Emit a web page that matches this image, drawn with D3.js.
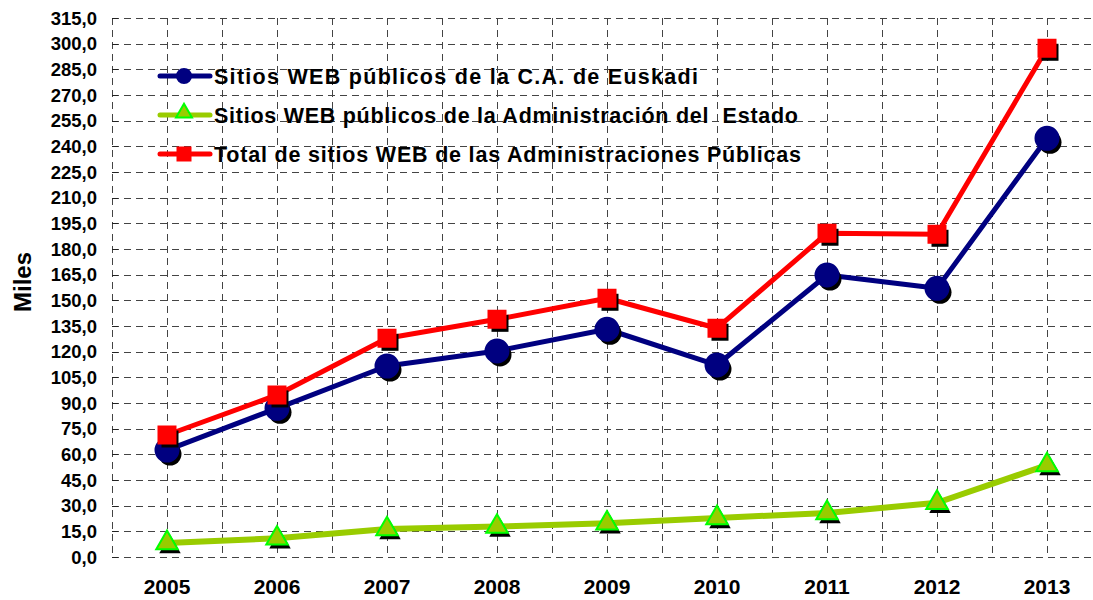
<!DOCTYPE html>
<html>
<head>
<meta charset="utf-8">
<script src="https://cdn.jsdelivr.net/npm/d3@7"></script>
<style>
  body { margin: 0; background: #fff; }
  text { font-family: "Liberation Sans", Arial, sans-serif; font-weight: 700; fill: #000; }
</style>
</head>
<body>
<svg id="chart" width="1093" height="600"></svg>
<script>
// data (thousands)
const years = ["2005", "2006", "2007", "2008", "2009", "2010", "2011", "2012", "2013"];
const euskadi = [62.5, 86.9, 111.6, 120.4, 133.1, 112.2, 164.8, 157.0, 244.7];
const estado = [8.2, 10.9, 16.3, 17.8, 19.7, 22.8, 25.7, 31.7, 53.7];
const total = [71.3, 94.7, 127.8, 138.9, 151.2, 133.7, 189.2, 188.6, 297.3];
const yTicks = d3.range(0, 316, 15);
const legendLabels = [
  "Sitios WEB públicos de la C.A. de Euskadi",
  "Sitios WEB públicos de la Administración del\u00a0 Estado",
  "Total de sitios WEB de las Administraciones Públicas"
];

let svg = d3.select("#chart");

let x = d3.scaleBand().domain(years).range([112, 1102]);
let y = d3.scaleLinear().domain([0, 315]).range([557, 18]);
let cx = d => x(d) + x.bandwidth() / 2;

// grid
let grid = svg.append("g")
  .attr("stroke", "#444")
  .attr("stroke-width", 1)
  .attr("stroke-dasharray", "7,5");

grid.selectAll(".h")
  .data(yTicks)
  .enter()
  .append("line")
  .attr("x1", 112).attr("x2", 1102)
  .attr("y1", d => Math.round(y(d)) + 0.5)
  .attr("y2", d => Math.round(y(d)) + 0.5);

// vertical lines at category boundaries and centers
let vx = [];
years.forEach(d => { vx.push(x(d)); vx.push(cx(d)); });
grid.selectAll(".v")
  .data(vx)
  .enter()
  .append("line")
  .attr("x1", d => Math.round(d) + 0.5).attr("x2", d => Math.round(d) + 0.5)
  .attr("y1", y(315)).attr("y2", y(0));

// small ticks on the y axis
svg.append("g")
  .selectAll("line")
  .data(yTicks)
  .enter()
  .append("line")
  .attr("x1", 112).attr("x2", 118)
  .attr("y1", d => Math.round(y(d)) + 0.5)
  .attr("y2", d => Math.round(y(d)) + 0.5)
  .attr("stroke", "#222");

// y labels
svg.append("g")
  .selectAll("text")
  .data(yTicks)
  .enter()
  .append("text")
  .attr("x", 97)
  .attr("y", d => y(d) + 6.5)
  .attr("text-anchor", "end")
  .attr("font-size", 18.5)
  .text(d => d3.format(".1f")(d).replace(".", ","));

// x labels
svg.append("g")
  .selectAll("text")
  .data(years)
  .enter()
  .append("text")
  .attr("x", d => cx(d))
  .attr("y", 594)
  .attr("text-anchor", "middle")
  .attr("font-size", 21)
  .text(d => d);

svg.append("text")
  .attr("transform", "translate(31,282) rotate(-90)")
  .attr("text-anchor", "middle")
  .attr("font-size", 24)
  .text("Miles");

// marker shapes
let circle = d3.symbol().type(d3.symbolCircle).size(Math.PI * 11.5 * 11.5);
let tri = d3.symbol().type(d3.symbolTriangle).size(200);
let square = d3.symbol().type(d3.symbolSquare).size(17 * 17);

let series = [
  { values: estado, color: "#99CC00", width: 6, shape: tri, fill: "#99CC00", stroke: "#00FF00", lshape: d3.symbol().type(d3.symbolTriangle).size(110) },
  { values: euskadi, color: "#000080", width: 5, shape: circle, fill: "#000080", stroke: "#000080", lshape: d3.symbol().type(d3.symbolCircle).size(Math.PI * 7 * 7) },
  { values: total, color: "#FF0000", width: 5, shape: square, fill: "#FF0000", stroke: "#FF0000", lshape: d3.symbol().type(d3.symbolSquare).size(13 * 13) }
];

let line = d3.line()
  .x((d, i) => cx(years[i]))
  .y(d => y(d));

series.forEach(s => {
  svg.append("path")
    .datum(s.values)
    .attr("d", line)
    .attr("fill", "none")
    .attr("stroke", s.color)
    .attr("stroke-width", s.width)
    .attr("stroke-linejoin", "round");

  // shadows
  svg.append("g")
    .selectAll("path")
    .data(s.values)
    .enter()
    .append("path")
    .attr("d", s.shape)
    .attr("transform", (d, i) => "translate(" + (cx(years[i]) + 3) + "," + (y(d) + 4) + ")")
    .attr("fill", "#000");

  svg.append("g")
    .selectAll("path")
    .data(s.values)
    .enter()
    .append("path")
    .attr("d", s.shape)
    .attr("transform", (d, i) => "translate(" + cx(years[i]) + "," + y(d) + ")")
    .attr("fill", s.fill)
    .attr("stroke", s.stroke)
    .attr("stroke-width", 2);
});

// legend
let legendOrder = [series[1], series[0], series[2]];
let legendWidths = [484, 584, 587];
let legend = svg.append("g");
legendOrder.forEach((s, i) => {
  let ly = 76 + i * 39;
  legend.append("line")
    .attr("x1", 160).attr("x2", 210)
    .attr("y1", ly).attr("y2", ly)
    .attr("stroke", s.color)
    .attr("stroke-width", 5)
    .attr("stroke-linecap", "round");
  legend.append("path")
    .attr("d", s.lshape)
    .attr("transform", "translate(184," + (ly + (s.shape === tri ? -2 : 0)) + ")")
    .attr("fill", s.fill)
    .attr("stroke", s.stroke)
    .attr("stroke-width", 2);
  legend.append("text")
    .attr("x", 214)
    .attr("y", ly + 8)
    .attr("font-size", 21.5)
    .attr("textLength", legendWidths[i])
    .attr("lengthAdjust", "spacing")
    .text(legendLabels[i]);
});
</script>
</body>
</html>
